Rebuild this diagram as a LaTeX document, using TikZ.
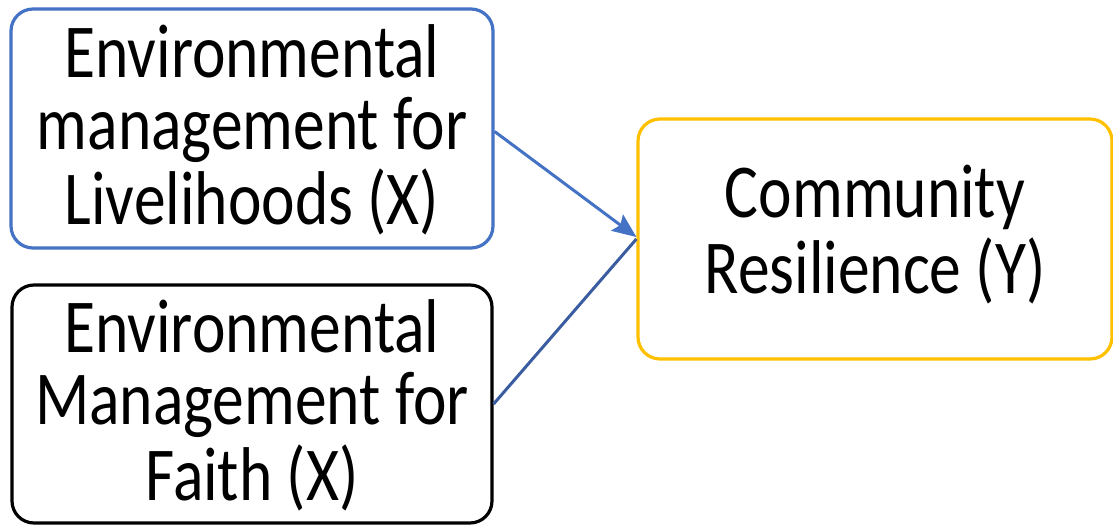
\documentclass[tikz,border=0pt]{standalone}
\usepackage{fontspec}
\setmainfont{Carlito}
\usepackage{graphicx}
\usetikzlibrary{arrows.meta,positioning}
\definecolor{boxblue}{RGB}{68,114,196}
\definecolor{lineblue}{RGB}{58,92,160}
\definecolor{boxgold}{RGB}{255,192,0}
\newcommand{\boxtext}[2][0pt]{\raisebox{#1}[\height][\depth]{\scalebox{1}[1.2]{\begin{tabular}{@{}c@{}}#2\end{tabular}}}}

\begin{document}
\begin{tikzpicture}[x=1pt, y=-1pt, >=Stealth,
    var/.style={draw, line width=3.2pt, rounded corners=22pt, fill=white, minimum height=239pt, align=center, inner sep=0pt, font=\fontsize{63.5}{55}\selectfont}]

    \useasboundingbox (0,0) rectangle (1113,525);

    \node[var, draw=boxblue, minimum width=482pt] (liv) at (252,128.5) {\boxtext[-6pt]{Environmental\\management for\\Livelihoods (X)}};
    \node[var, draw=black, minimum width=480pt, minimum height=238pt] (faith) at (252,404) {\boxtext[-6pt]{Environmental\\Management for\\Faith (X)}};
    \node[var, draw=boxgold, minimum width=474pt, minimum height=240pt] (res) at (875,239) {\boxtext{Community\\Resilience (Y)}};

    % X -> Y
    \draw[line width=3pt, draw=boxblue, -{Stealth[length=24pt, width=20pt, inset=4pt]}] ([yshift=-3pt]liv.east) -- ([yshift=2pt]res.west);
    \draw[line width=3pt, draw=lineblue] (faith.east) -- (res.west);
\end{tikzpicture}
\end{document}
